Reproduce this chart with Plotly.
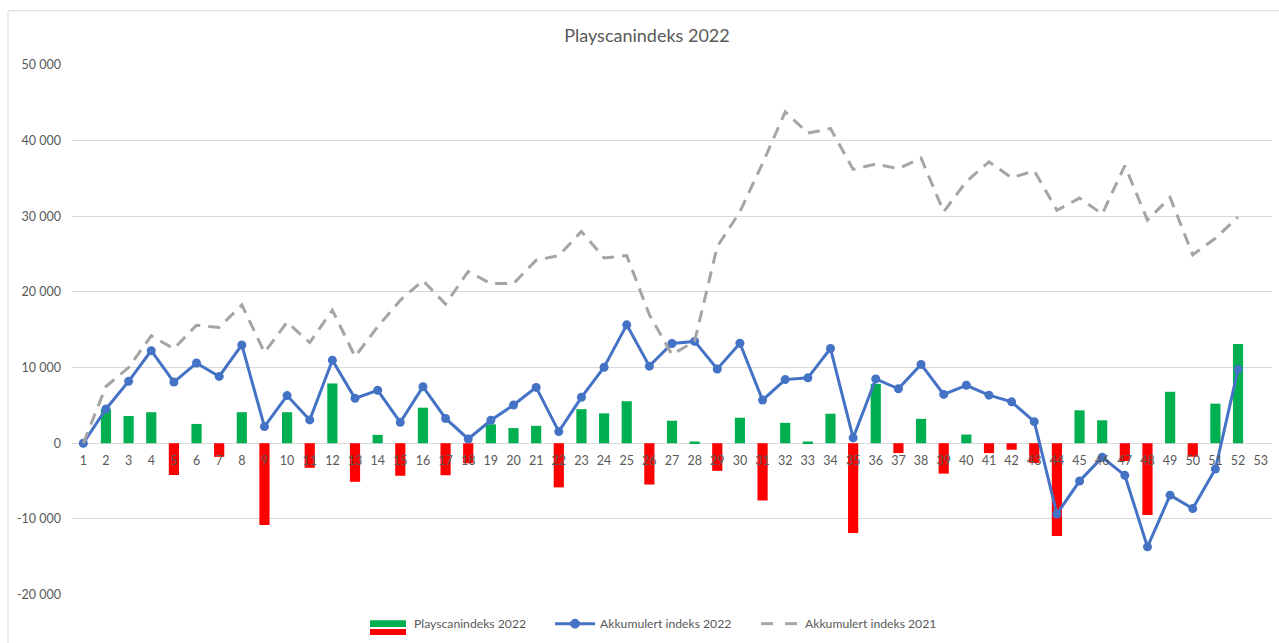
import plotly.graph_objects as go

weeks = list(range(1, 54))

playscan_2022 = [None, 4500, 3600, 4100, -4200, 2550, -1800, 4100, -10800, 4100,
                 -3250, 7900, -5100, 1100, -4300, 4700, -4230, -2650, 2500, 2000,
                 2300, -5840, 4500, 3950, 5550, -5460, 2970, 230, -3650, 3370,
                 -7570, 2690, 230, 3900, -11870, 7850, -1300, 3220, -4020, 1150,
                 -1310, -860, -2600, -12250, 4350, 3030, -2360, -9500, 6800, -1780,
                 5230, 13130, None]

akk_2022 = [0, 4530, 8180, 12240, 8080, 10600, 8830, 12990, 2200, 6300,
            3080, 10980, 5930, 7000, 2760, 7480, 3270, 560, 3040, 5050,
            7380, 1540, 6070, 10050, 15650, 10190, 13180, 13460, 9810, 13220,
            5700, 8410, 8640, 12520, 700, 8500, 7200, 10420, 6450, 7660,
            6350, 5470, 2850, -9350, -5000, -1870, -4250, -13700, -6870, -8640,
            -3410, 9770, None]

akk_2021 = [0, 7500, 10000, 14200, 12500, 15600, 15300, 18300, 12000, 16000,
            13300, 17600, 11450, 15400, 18900, 21500, 18400, 22700, 21100, 21100,
            24200, 24800, 28000, 24500, 24800, 17000, 11700, 13500, 26000, 30600,
            37000, 43800, 41000, 41600, 36200, 36900, 36300, 37700, 30600, 34600,
            37200, 35100, 36000, 30800, 32400, 30300, 36700, 29500, 32500, 24900,
            27100, 29900, None]

series_names = ["Playscanindeks 2022", "Akkumulert indeks 2022", "Akkumulert indeks 2021"]

y_ticks = [-20000, -10000, 0, 10000, 20000, 30000, 40000, 50000]
y_ticktext = ["-20 000", "-10 000", "0", "10 000", "20 000", "30 000", "40 000", "50 000"]

GREEN = "#00B050"
RED = "#FF0000"
BLUE = "#4472C4"
GREY = "#A5A5A5"
TXT = "#595959"
GRID = "#D9D9D9"
FONT = "Lato, 'Open Sans', sans-serif"

W, H = 1279, 643
L, R, T, B = 72, 7, 65, 0
PW, PH = W - L - R, H - T - B
AXIS_BOTTOM = 601  # pixel row of the -20 000 gridline


def px_x(x):
    return (x - L) / PW


def px_y(y):
    return (H - B - y) / PH


bar_colors = [GREEN if (v is not None and v >= 0) else RED for v in playscan_2022]

fig = go.Figure()
fig.add_trace(go.Bar(x=weeks, y=playscan_2022, marker=dict(color=bar_colors, line=dict(width=0)),
                     width=0.45, name=series_names[0], showlegend=False))
fig.add_trace(go.Scatter(x=weeks, y=akk_2022, mode="lines+markers", name=series_names[1],
                         line=dict(color=BLUE, width=3), marker=dict(color=BLUE, size=9),
                         showlegend=False))
fig.add_trace(go.Scatter(x=weeks, y=akk_2021, mode="lines", name=series_names[2],
                         line=dict(color=GREY, width=3, dash="12px,8px"), showlegend=False))

zero_pos = px_y(AXIS_BOTTOM) + (1 - px_y(AXIS_BOTTOM)) * 20000 / 70000

LEG_Y = 630.5
shapes = [
    # chart-area frame
    dict(type="rect", xref="paper", yref="paper",
         x0=px_x(8), x1=px_x(1290), y0=px_y(660), y1=px_y(10),
         line=dict(color=GRID, width=1), fillcolor="rgba(0,0,0,0)", layer="below"),
    # legend: bar swatch (positive / negative)
    dict(type="rect", xref="paper", yref="paper",
         x0=px_x(370), x1=px_x(406), y0=px_y(634), y1=px_y(627),
         line=dict(width=0), fillcolor=GREEN),
    dict(type="rect", xref="paper", yref="paper",
         x0=px_x(370), x1=px_x(406), y0=px_y(642), y1=px_y(636),
         line=dict(width=0), fillcolor=RED),
    # legend: blue line with marker
    dict(type="line", xref="paper", yref="paper",
         x0=px_x(555), x1=px_x(595), y0=px_y(LEG_Y), y1=px_y(LEG_Y),
         line=dict(color=BLUE, width=3)),
    dict(type="circle", xref="paper", yref="paper",
         x0=px_x(570.5), x1=px_x(579.5), y0=px_y(LEG_Y + 4.5), y1=px_y(LEG_Y - 4.5),
         line=dict(color=BLUE, width=1), fillcolor=BLUE),
    # legend: grey dashed line
    dict(type="line", xref="paper", yref="paper",
         x0=px_x(761), x1=px_x(773), y0=px_y(LEG_Y), y1=px_y(LEG_Y),
         line=dict(color=GREY, width=3)),
    dict(type="line", xref="paper", yref="paper",
         x0=px_x(785), x1=px_x(797), y0=px_y(LEG_Y), y1=px_y(LEG_Y),
         line=dict(color=GREY, width=3)),
]

legend_text_x = [412, 598, 803]
annotations = [
    dict(text=name, xref="paper", yref="paper", x=px_x(xx), y=px_y(LEG_Y),
         xanchor="left", yanchor="middle", showarrow=False,
         font=dict(size=12.2, color=TXT, family=FONT))
    for name, xx in zip(series_names, legend_text_x)
]

fig.update_layout(
    width=W, height=H,
    margin=dict(l=L, r=R, t=T, b=B),
    paper_bgcolor="white", plot_bgcolor="white",
    font=dict(family=FONT, color=TXT, size=12),
    title=dict(text="Playscanindeks 2022", x=647 / W, xanchor="center",
               y=1 - 36 / H, yanchor="middle", font=dict(size=18, color=TXT, family=FONT)),
    barmode="overlay",
    showlegend=False,
    xaxis=dict(range=[0.5, 53.5], tickmode="array", tickvals=weeks, ticktext=[str(w) for w in weeks],
               showgrid=False, zeroline=False, showline=False, anchor="free",
               position=zero_pos, ticks="", ticklabelstandoff=8,
               tickfont=dict(size=12.5, color=TXT, family=FONT)),
    yaxis=dict(range=[-20000, 50000], domain=[px_y(AXIS_BOTTOM), 1],
               tickmode="array", tickvals=y_ticks, ticktext=y_ticktext,
               showgrid=True, gridcolor=GRID, gridwidth=1, zeroline=True, zerolinecolor=GRID,
               zerolinewidth=1, showline=False, ticks="", ticklabelstandoff=10,
               tickfont=dict(size=12.5, color=TXT, family=FONT)),
    shapes=shapes,
    annotations=annotations,
)

fig.write_html("out.html", config={"displayModeBar": False},
               post_script="document.body.style.margin='0';document.body.style.overflow='hidden';")
